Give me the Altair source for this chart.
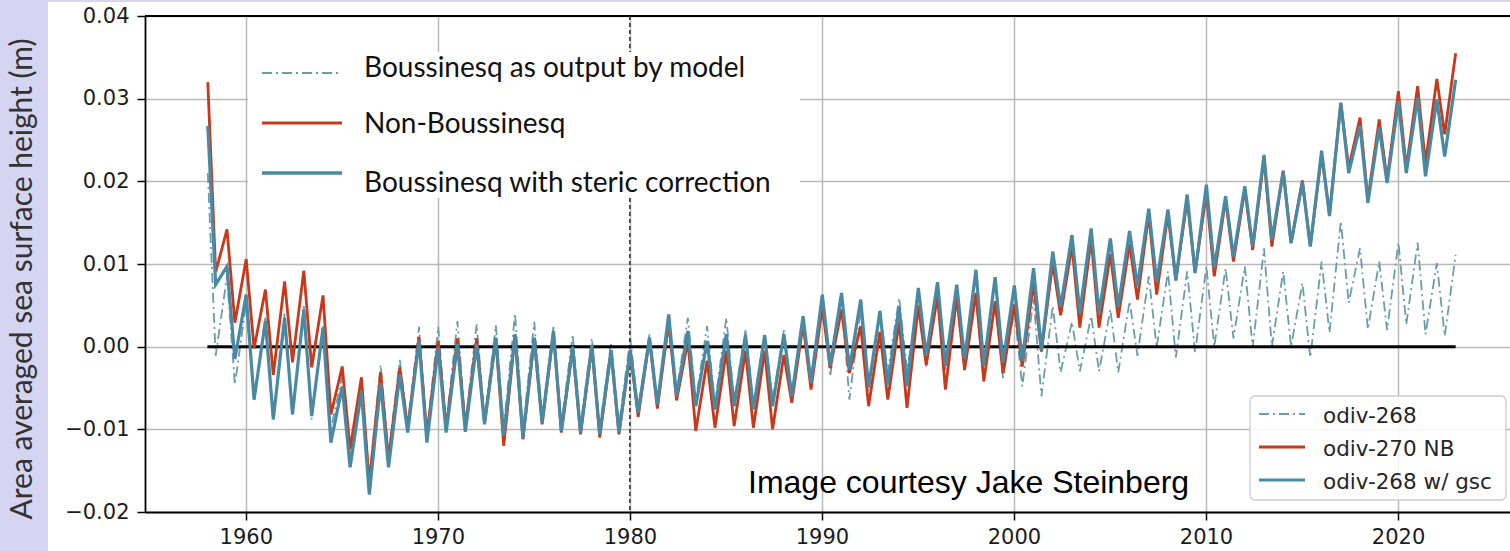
import altair as alt
import pandas as pd

# ---------------- data ----------------
years = list(range(1958, 2023))          # one seasonal cycle per year
final_year = 2023.0
peak_offset = 0.02                        # position of the yearly maximum inside the year
trough_offset = 0.43                      # position of the yearly minimum inside the year

nb_peaks = [0.0320, 0.0142, 0.0106, 0.0069, 0.0079, 0.0092, 0.0062, -0.0024, -0.0037, -0.0031,
            -0.0025, 0.0012, 0.0007, 0.0010, 0.0010, 0.0009, 0.0013, 0.0009, 0.0017, -0.0002,
            0.0000, -0.0006, -0.0006, 0.0009, 0.0030, 0.0007, -0.0017, -0.0005, -0.0005, -0.0005,
            -0.0010, 0.0027, 0.0048, 0.0045, 0.0025, 0.0018, 0.0030, 0.0049, 0.0061, 0.0060,
            0.0065, 0.0055, 0.0051, 0.0077, 0.0101, 0.0122, 0.0130, 0.0112, 0.0124, 0.0160,
            0.0160, 0.0178, 0.0185, 0.0178, 0.0190, 0.0228, 0.0213, 0.0201, 0.0232, 0.0295,
            0.0277, 0.0275, 0.0309, 0.0315, 0.0324]
nb_troughs = [0.0090, 0.0029, -0.0002, -0.0034, -0.0019, -0.0025, -0.0082, -0.0124, -0.0165, -0.0136,
              -0.0099, -0.0107, -0.0098, -0.0098, -0.0092, -0.0120, -0.0112, -0.0094, -0.0104, -0.0106,
              -0.0110, -0.0106, -0.0085, -0.0075, -0.0065, -0.0102, -0.0098, -0.0096, -0.0098, -0.0100,
              -0.0068, -0.0052, -0.0026, -0.0032, -0.0072, -0.0064, -0.0074, -0.0022, -0.0052, -0.0028,
              -0.0042, -0.0032, -0.0024, -0.0006, 0.0038, 0.0023, 0.0023, 0.0035, 0.0057, 0.0063,
              0.0080, 0.0090, 0.0085, 0.0103, 0.0117, 0.0121, 0.0126, 0.0122, 0.0160, 0.0216,
              0.0178, 0.0202, 0.0216, 0.0222, 0.0257]
nb_end = 0.0355

gsc_peaks = [0.0267, 0.0097, 0.0063, 0.0031, 0.0035, 0.0045, 0.0023, -0.0048, -0.0054, -0.0044,
             -0.0034, 0.0007, -0.0001, 0.0003, 0.0003, 0.0011, 0.0015, 0.0011, 0.0019, 0.0000,
             0.0002, -0.0004, -0.0004, 0.0011, 0.0039, 0.0019, 0.0007, 0.0015, 0.0014, 0.0014,
             0.0015, 0.0037, 0.0063, 0.0065, 0.0057, 0.0043, 0.0048, 0.0071, 0.0078, 0.0075,
             0.0093, 0.0084, 0.0074, 0.0095, 0.0115, 0.0135, 0.0143, 0.0131, 0.0140, 0.0167,
             0.0166, 0.0184, 0.0196, 0.0182, 0.0194, 0.0232, 0.0212, 0.0199, 0.0237, 0.0295,
             0.0267, 0.0265, 0.0297, 0.0301, 0.0299]
gsc_troughs = [0.0075, -0.0015, -0.0064, -0.0088, -0.0082, -0.0084, -0.0116, -0.0146, -0.0179, -0.0146,
               -0.0104, -0.0116, -0.0104, -0.0103, -0.0094, -0.0108, -0.0110, -0.0092, -0.0102, -0.0104,
               -0.0106, -0.0104, -0.0080, -0.0070, -0.0060, -0.0072, -0.0076, -0.0072, -0.0076, -0.0072,
               -0.0060, -0.0044, -0.0023, -0.0027, -0.0049, -0.0046, -0.0048, -0.0011, -0.0023, -0.0015,
               -0.0023, -0.0019, -0.0017, -0.0004, 0.0048, 0.0041, 0.0040, 0.0048, 0.0073, 0.0078,
               0.0081, 0.0089, 0.0095, 0.0109, 0.0121, 0.0129, 0.0125, 0.0121, 0.0158, 0.0210,
               0.0174, 0.0198, 0.0210, 0.0206, 0.0230]
gsc_end = 0.0323

raw_peaks = [0.0210, 0.0085, 0.0053, 0.0037, 0.0040, 0.0049, 0.0025, -0.0035, -0.0040, -0.0022,
             -0.0016, 0.0024, 0.0024, 0.0031, 0.0027, 0.0026, 0.0040, 0.0030, 0.0024, 0.0015,
             0.0010, 0.0005, 0.0010, 0.0015, 0.0021, 0.0035, 0.0025, 0.0035, 0.0020, 0.0015,
             0.0020, 0.0035, 0.0061, 0.0061, 0.0045, 0.0045, 0.0059, 0.0053, 0.0061, 0.0057,
             0.0061, 0.0053, 0.0045, 0.0058, 0.0049, 0.0030, 0.0037, 0.0045, 0.0055, 0.0085,
             0.0091, 0.0091, 0.0097, 0.0095, 0.0097, 0.0119, 0.0091, 0.0077, 0.0103, 0.0152,
             0.0119, 0.0103, 0.0126, 0.0126, 0.0101]
raw_troughs = [-0.0011, -0.0046, -0.0066, -0.0088, -0.0084, -0.0088, -0.0100, -0.0130, -0.0160, -0.0130,
               -0.0095, -0.0105, -0.0095, -0.0095, -0.0088, -0.0098, -0.0100, -0.0085, -0.0095, -0.0095,
               -0.0098, -0.0095, -0.0075, -0.0065, -0.0055, -0.0065, -0.0070, -0.0065, -0.0070, -0.0065,
               -0.0058, -0.0040, -0.0036, -0.0064, -0.0054, -0.0031, -0.0028, -0.0024, -0.0028, -0.0031,
               -0.0042, -0.0038, -0.0048, -0.0060, -0.0031, -0.0030, -0.0030, -0.0031, -0.0011, -0.0001,
               -0.0013, -0.0007, 0.0000, 0.0010, -0.0001, 0.0000, 0.0000, -0.0013, 0.0017, 0.0053,
               0.0021, 0.0020, 0.0027, 0.0015, 0.0013]
raw_end = 0.0111

x_ticks = [1960, 1970, 1980, 1990, 2000, 2010, 2020]
y_ticks = [-0.02, -0.01, 0.00, 0.01, 0.02, 0.03, 0.04]
x_domain = [1954.75, 2025.83]
y_domain = [-0.02, 0.04]
zero_line = {"t": 1958.0, "t_end": 2023.0, "v": 0.0}
marker_year = 1980

series_names = ["odiv-268", "odiv-270 NB", "odiv-268 w/ gsc"]
overlay_labels = ["Boussinesq as output by model", "Non-Boussinesq",
                  "Boussinesq with steric correction"]
y_title = "Area averaged sea surface height (m)"
credit = "Image courtesy Jake Steinberg"


def build(name, peaks, troughs, end):
    rows = []
    for yr, p, tr in zip(years, peaks, troughs):
        rows.append({"t": yr + peak_offset, "v": p, "series": name})
        rows.append({"t": yr + trough_offset, "v": tr, "series": name})
    rows.append({"t": final_year, "v": end, "series": name})
    return pd.DataFrame(rows)


df_raw = build(series_names[0], raw_peaks, raw_troughs, raw_end)
df_nb = build(series_names[1], nb_peaks, nb_troughs, nb_end)
df_gsc = build(series_names[2], gsc_peaks, gsc_troughs, gsc_end)

# ---------------- style ----------------
W, H = 1365, 496
LAV = "#d5d5f2"
C_RAW = "#6b9cae"
C_NB = "#c8391b"
C_GSC = "#4a89a2"
DASHDOT = [10, 4, 2, 4]
TICK_FONT = "DejaVu Sans"
SLIDE_FONT = "Lato"

one = pd.DataFrame({"k": [0]})
xs = alt.Scale(domain=x_domain, nice=False, zero=False)
ys = alt.Scale(domain=y_domain, nice=False, zero=False)

x_axis = alt.Axis(values=x_ticks, format="d", title=None, grid=True,
                  gridColor="#b9b9b9", gridWidth=1.5,
                  labelFont=TICK_FONT, labelFontSize=21, labelColor="#1c1c1c",
                  labelPadding=6, labelFlush=False, labelOverlap=False,
                  tickSize=8, tickWidth=1.5, tickColor="black",
                  domainColor="black", domainWidth=1.8)
y_axis = alt.Axis(values=y_ticks, format=".2f", title=None, grid=True,
                  gridColor="#b9b9b9", gridWidth=1.5,
                  labelFont=TICK_FONT, labelFontSize=21, labelColor="#1c1c1c",
                  labelPadding=8, labelFlush=False, labelOverlap=False,
                  tickSize=8, tickWidth=1.5, tickColor="black",
                  domainColor="black", domainWidth=1.8)


def X(field):
    return alt.X(field, scale=xs, axis=x_axis)


def Y(field):
    return alt.Y(field, scale=ys, axis=y_axis)


layers = []

# the dash-dot raw Boussinesq series
layers.append(alt.Chart(df_raw).mark_line(color=C_RAW, strokeWidth=1.8, strokeDash=DASHDOT).encode(
    x=X("t:Q"), y=Y("v:Q")))

# lavender slide strips
layers.append(alt.Chart(one).mark_rect(color=LAV).encode(
    x=alt.value(-145), x2=alt.value(-97), y=alt.value(-16), y2=alt.value(H + 40)))
layers.append(alt.Chart(one).mark_rect(color=LAV).encode(
    x=alt.value(-97), x2=alt.value(W), y=alt.value(-16), y2=alt.value(-14)))

# top frame
layers.append(alt.Chart(one).mark_rule(color="black", strokeWidth=1.8).encode(
    x=alt.value(0), x2=alt.value(W), y=alt.value(0)))

# 1980 marker
layers.append(alt.Chart(pd.DataFrame({"t": [marker_year]})).mark_rule(
    color="#2a2a2a", strokeWidth=1.5, strokeDash=[4, 3]).encode(
    x=X("t:Q"), y=alt.value(0), y2=alt.value(H)))

# zero reference line
layers.append(alt.Chart(pd.DataFrame([zero_line])).mark_rule(color="black", strokeWidth=3).encode(
    x=X("t:Q"), x2="t_end:Q", y=Y("v:Q")))

# the other two series
layers.append(alt.Chart(df_nb).mark_line(color=C_NB, strokeWidth=2.8).encode(
    x=X("t:Q"), y=Y("v:Q")))
layers.append(alt.Chart(df_gsc).mark_line(color=C_GSC, strokeWidth=3.2).encode(
    x=X("t:Q"), y=Y("v:Q")))

# slide overlay legend (upper left)
layers.append(alt.Chart(one).mark_rect(color="white").encode(
    x=alt.value(103), x2=alt.value(655), y=alt.value(36), y2=alt.value(182)))
ov_styles = [(C_RAW, 2.2, DASHDOT), (C_NB, 3.2, [1, 0]), (C_GSC, 3.6, [1, 0])]
ov_line_y = [57, 107, 157]
ov_text_y = [61, 117, 176]
for (col, sw, dash), ly, ty, lab in zip(ov_styles, ov_line_y, ov_text_y, overlay_labels):
    layers.append(alt.Chart(one).mark_rule(color=col, strokeWidth=sw, strokeDash=dash).encode(
        x=alt.value(117), x2=alt.value(197), y=alt.value(ly)))
    layers.append(alt.Chart(one).mark_text(font=SLIDE_FONT, fontSize=28, color="#111111",
                                           align="left", baseline="alphabetic").encode(
        x=alt.value(219), y=alt.value(ty), text=alt.value(lab)))

# matplotlib legend (lower right)
layers.append(alt.Chart(one).mark_rect(fill="white", fillOpacity=0.85, stroke="#cccccc",
                                       strokeWidth=1.3, cornerRadius=5).encode(
    x=alt.value(1105), x2=alt.value(1361), y=alt.value(380), y2=alt.value(484)))
lg_styles = [(C_RAW, 1.8, DASHDOT), (C_NB, 2.8, [1, 0]), (C_GSC, 3.0, [1, 0])]
lg_line_y = [398, 431, 464]
for (col, sw, dash), ly, lab in zip(lg_styles, lg_line_y, series_names):
    layers.append(alt.Chart(one).mark_rule(color=col, strokeWidth=sw, strokeDash=dash).encode(
        x=alt.value(1114), x2=alt.value(1160), y=alt.value(ly)))
    layers.append(alt.Chart(one).mark_text(font=TICK_FONT, fontSize=21.5, color="#262626",
                                           align="left", baseline="alphabetic").encode(
        x=alt.value(1178), y=alt.value(ly + 8.5), text=alt.value(lab)))

# credit text
layers.append(alt.Chart(one).mark_text(font="Liberation Sans", fontSize=32, color="black",
                                       align="left", baseline="alphabetic").encode(
    x=alt.value(603), y=alt.value(477), text=alt.value(credit)))

# slide y-axis title
layers.append(alt.Chart(one).mark_text(font=SLIDE_FONT, fontSize=30, color="#333333",
                                       align="center", baseline="middle", angle=270).encode(
    x=alt.value(-122), y=alt.value(263), text=alt.value(y_title)))

chart = alt.layer(*layers).properties(
    width=W, height=H,
    autosize=alt.AutoSizeParams(type="none"),
    padding={"left": 145, "top": 16, "right": 0, "bottom": 39},
    background="white",
).configure_view(stroke=None)

chart.save("out.html", embed_options={"renderer": "svg", "actions": False})
